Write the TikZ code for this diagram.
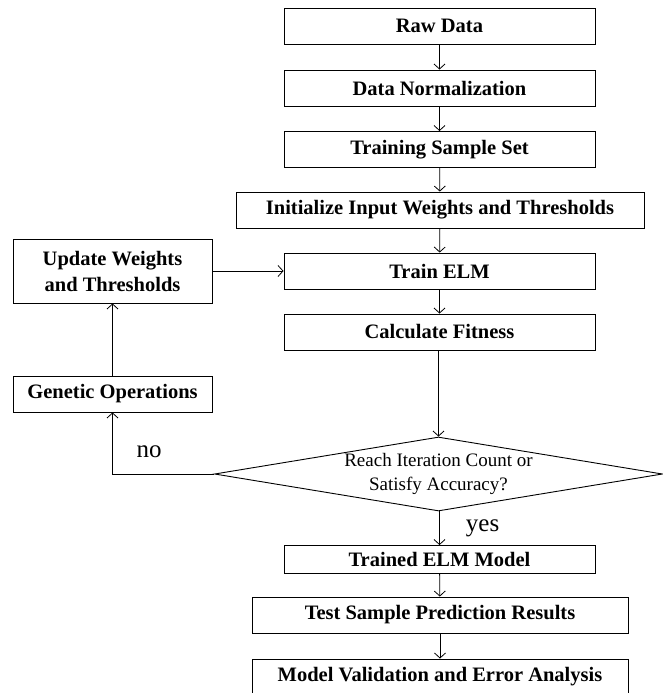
\documentclass[tikz,border=0pt]{standalone}
\usepackage{fontspec}
\setmainfont{Liberation Serif}
\usepackage{tikz}
\usetikzlibrary{shapes,arrows.meta,positioning}

\tikzset{
  flowbox/.style={draw, line width=0.9pt, inner sep=0pt, align=center,
    minimum width=311pt, minimum height=36pt,
    font=\bfseries\fontsize{20.5}{26}\selectfont},
  decide/.style={draw, diamond, line width=0.9pt, inner sep=0pt, align=center,
    aspect=6, minimum width=448pt, minimum height=74pt,
    font=\fontsize{19}{24}\selectfont},
  flowarrow/.style={draw, line width=0.8pt, -{Straight Barb[length=5pt,width=11pt]}},
  answer/.style={font=\fontsize{25}{27}\selectfont, inner sep=0pt}
}

\begin{document}
\begin{tikzpicture}[x=1pt,y=-1pt]
\useasboundingbox (0,0) rectangle (663,693);

% main column
\node[flowbox] (raw) at (439.5,26) {Raw Data};
\node[flowbox] (norm) at (439.5,88) {Data Normalization};
\node[flowbox] (trainset) at (439.5,149.5) {Training Sample Set};
\node[flowbox, minimum width=408pt] (init) at (440,210) {Initialize Input Weights and Thresholds};
\node[flowbox] (elm) at (439.5,271) {Train ELM};
\node[flowbox] (fitness) at (439.5,332) {Calculate Fitness};
\node[decide] (check) at (438.5,474) {Reach Iteration Count or\\Satisfy Accuracy?};
\node[flowbox, minimum height=28pt] (trained) at (439.5,559.5) {Trained ELM Model};
\node[flowbox, minimum width=376pt] (test) at (440,615) {Test Sample Prediction Results};
\node[flowbox, minimum width=376pt] (valid) at (440,677) {Model Validation and Error Analysis};

% loop on the left
\node[flowbox, minimum width=199pt, minimum height=64pt] (update) at (112.5,271) {Update Weights\\and Thresholds};
\node[flowbox, minimum width=199pt] (genetic) at (112.5,394) {Genetic Operations};

\draw[flowarrow] (raw) -- (norm);
\draw[flowarrow] (norm) -- (trainset);
\draw[flowarrow] (trainset) -- (init);
\draw[flowarrow] (init) -- (elm);
\draw[flowarrow] (elm) -- (fitness);
\draw[flowarrow] (fitness.south -| check.north) -- (check.north);
\draw[flowarrow] (check.south -| trained.north) -- node[answer, right, xshift=26pt] {yes} (trained);
\draw[flowarrow] (trained) -- (test);
\draw[flowarrow] (test) -- (valid);

\draw[flowarrow] (check.west) -| node[answer, pos=0.32, above, yshift=16pt] {no} (genetic.south);
\draw[flowarrow] (genetic) -- (update);
\draw[flowarrow] (update.east |- elm.west) -- (elm.west);

\end{tikzpicture}
\end{document}
